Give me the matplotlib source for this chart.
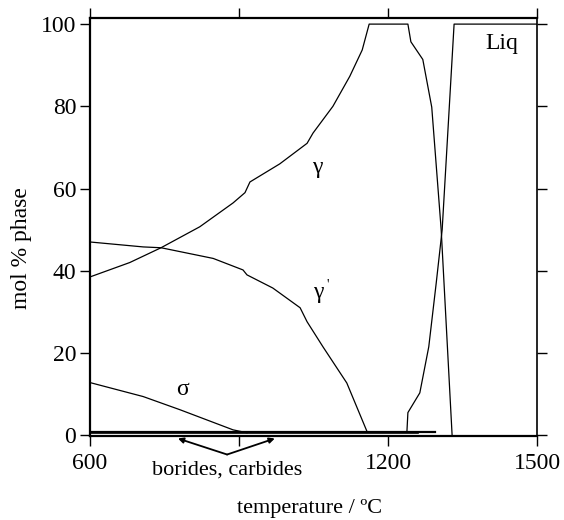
import matplotlib.pyplot as plt

plt.rcParams['font.family'] = ['Liberation Serif', 'DejaVu Serif']

# phase fractions (mol %)
gamma_T = [600, 680, 743, 821, 888, 912, 922, 982, 1037, 1049, 1089, 1123, 1148, 1162,
           1240, 1246, 1270, 1288, 1307, 1329]
gamma_y = [38.5, 42, 45.6, 50.7, 56.5, 59, 61.6, 66, 71, 73.5, 80, 87.3, 93.7, 100,
           100, 95.7, 91.4, 79.8, 50, 0]

gp_T = [600, 707, 743, 848, 908, 916, 968, 1023, 1037, 1069, 1117, 1158]
gp_y = [47, 45.8, 45.6, 43, 40.2, 39, 35.8, 31, 27.6, 21.5, 12.7, 0.8]

sigma_T = [600, 707, 781, 888, 916]
sigma_y = [12.8, 9.4, 6.2, 1.3, 0.6]

liq_T = [1238, 1240, 1264, 1282, 1297, 1309, 1333, 1500]
liq_y = [0.8, 5.5, 10.3, 21.5, 37, 50, 100, 100]

boride_T = [600, 1295]
boride_y = [0.8, 0.8]
carbide_T = [600, 1260]
carbide_y = [0.5, 0.5]

fig = plt.figure(figsize=(5.64, 5.2), dpi=100)
ax = fig.add_axes([0.1596, 0.1615, 0.7926, 0.804])

ax.plot(gamma_T, gamma_y, color='black', lw=0.9)
ax.plot(gp_T, gp_y, color='black', lw=0.9)
ax.plot(sigma_T, sigma_y, color='black', lw=0.9)
ax.plot(liq_T, liq_y, color='black', lw=0.9)
ax.plot(boride_T, boride_y, color='black', lw=1.6)
ax.plot(carbide_T, carbide_y, color='black', lw=1.2)

ax.set_xlim(600, 1500)
ax.set_ylim(-0.2, 101.5)
ax.set_xticks([600, 1200, 1500])
ax.set_xticks([900], minor=True)
ax.set_yticks([0, 20, 40, 60, 80, 100])
ax.tick_params(axis='both', which='both', direction='out', length=7, width=1,
               labelsize=17, top=True, right=True, labeltop=False, labelright=False)
ax.tick_params(axis='x', pad=5)
ax.tick_params(axis='y', pad=3)

for s in ['left', 'bottom', 'top']:
    ax.spines[s].set_linewidth(1.6)
ax.spines['right'].set_linewidth(1.2)

fig.text(22 / 564, 1 - 248 / 520, 'mol % phase', fontsize=17, rotation=90,
         ha='center', va='center')
fig.text(310 / 564, 1 - 508 / 520, 'temperature / ºC', fontsize=16,
         ha='center', va='center')

ax.text(1057, 65.2, 'γ', fontsize=17, ha='center', va='center')
ax.text(1059, 34.6, 'γ', fontsize=17, ha='center', va='center')
ax.text(1079, 36.6, "'", fontsize=10, ha='center', va='center')
ax.text(787, 11, 'σ', fontsize=17, ha='center', va='center')
ax.text(1429, 95.4, 'Liq', fontsize=17, ha='center', va='center')

ax.text(876, -8.5, 'borides, carbides', fontsize=16, ha='center', va='center')
for tip in [777, 972]:
    ax.annotate('', xy=(tip, -0.8), xytext=(876, -4.7), annotation_clip=False,
                arrowprops=dict(arrowstyle='-|>', color='black', lw=1.3,
                                mutation_scale=8, shrinkA=0, shrinkB=0))

fig.savefig('out.png', dpi=100)
